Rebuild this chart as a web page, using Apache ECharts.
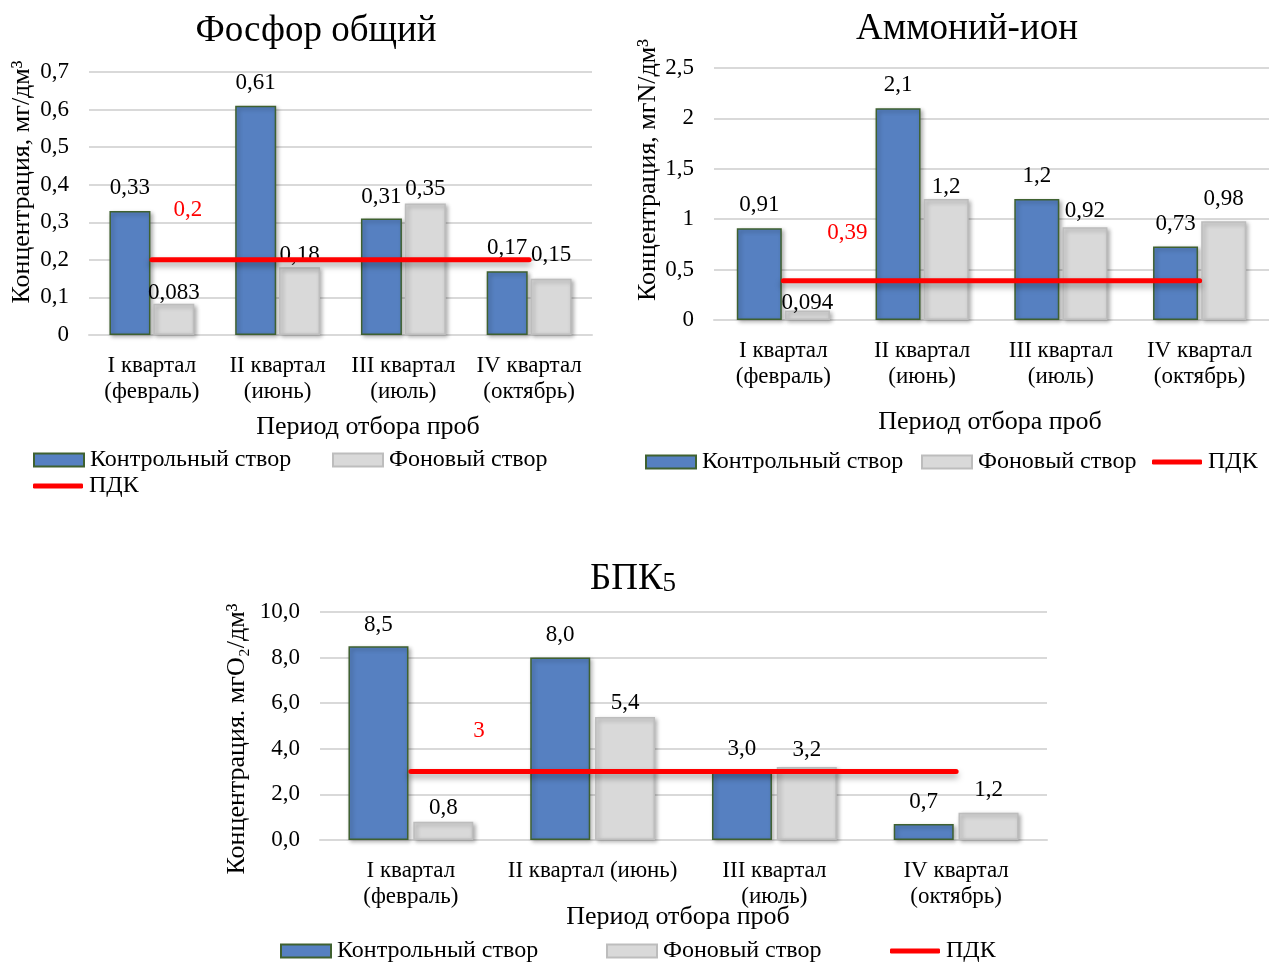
<!DOCTYPE html>
<html><head><meta charset="utf-8">
<script src="https://cdn.jsdelivr.net/npm/echarts@6/dist/echarts.min.js"></script>
<style>html,body{margin:0;padding:0;background:#fff}#c{width:1269px;height:964px}</style>
</head><body><div id="c"></div>
<script>
// ---------- DATA ----------
const categories1 = ['I квартал\n(февраль)', 'II квартал\n(июнь)', 'III квартал\n(июль)', 'IV квартал\n(октябрь)'];
const categories2 = ['I квартал\n(февраль)', 'II квартал\n(июнь)', 'III квартал\n(июль)', 'IV квартал\n(октябрь)'];
const categories3 = ['I квартал\n(февраль)', 'II квартал (июнь)', 'III квартал\n(июль)', 'IV квартал\n(октябрь)'];

const control1 = [0.33, 0.61, 0.31, 0.17];
const background1 = [0.083, 0.18, 0.35, 0.15];
const pdk1 = [0.2, 0.2, 0.2, 0.2];

const control2 = [0.91, 2.1, 1.2, 0.73];
const background2 = [0.094, 1.2, 0.92, 0.98];
const pdk2 = [0.39, 0.39, 0.39, 0.39];

const control3 = [8.5, 8.0, 3.0, 0.7];
const background3 = [0.8, 5.4, 3.2, 1.2];
const pdk3 = [3, 3, 3, 3];

const yAxis1 = {min: 0, max: 0.7, interval: 0.1};
const yAxis2 = {min: 0, max: 2.5, interval: 0.5};
const yAxis3 = {min: 0, max: 10, interval: 2};

const names = ['Контрольный створ', 'Фоновый створ', 'ПДК'];

// ---------- STYLE ----------
const FONT = '"Liberation Serif", "Times New Roman", serif';
const BLUE = '#5680C1', BLUE_BORDER = '#3F6130';
const GRAY = '#D9D9D9', GRAY_BORDER = '#BDBDBD';
const RED = '#FF0000';
const FS = 23;

// label distances (styling only)
const dist = {
  c1: [12, 11, 10, 12], b1: [-1, 1, 3, 12],
  c2: [12, 12, 12, 11], b2: [-4, 1, 5, 11],
  c3: [10, 11, 11, 11], b3: [2, 2, 6, 11]
};
const pdkOffset = [[36, -33], [64, -31], [68, -24]];

const fmt1 = v => String(+(+v).toFixed(3)).replace('.', ',');
const fmt3 = v => (+v).toFixed(1).replace('.', ',');

const cfgs = [
  {cats: categories1, c: control1, b: background1, p: pdk1, y: yAxis1, fmt: fmt1,
   grid: {left: 89, top: 72, width: 503, height: 263}, bw: 41, gap: '7%', dc: dist.c1, db: dist.b1},
  {cats: categories2, c: control2, b: background2, p: pdk2, y: yAxis2, fmt: fmt1,
   grid: {left: 714, top: 68, width: 557, height: 252}, bw: 45, gap: '7%', dc: dist.c2, db: dist.b2},
  {cats: categories3, c: control3, b: background3, p: pdk3, y: yAxis3, fmt: fmt3,
   grid: {left: 320, top: 612, width: 727, height: 228}, bw: 60, gap: '8%', dc: dist.c3, db: dist.b3}
];

const grid = [], xAxis = [], yAxis = [], series = [];
const shadow = {shadowColor: 'rgba(0,0,0,0.3)', shadowBlur: 4, shadowOffsetX: 2, shadowOffsetY: 2};
cfgs.forEach((g, i) => {
  grid.push(Object.assign({containLabel: false}, g.grid));
  xAxis.push({
    type: 'category', gridIndex: i, data: g.cats,
    axisTick: {show: false},
    axisLine: {lineStyle: {color: '#D9D9D9', width: 2}},
    axisLabel: {interval: 0, margin: 18, fontFamily: FONT, fontSize: FS, lineHeight: 26, color: '#000'}
  });
  yAxis.push({
    type: 'value', gridIndex: i, min: g.y.min, max: g.y.max, interval: g.y.interval,
    axisLine: {show: false}, axisTick: {show: false},
    splitLine: {lineStyle: {color: '#D9D9D9', width: 2}},
    axisLabel: {margin: 20, fontFamily: FONT, fontSize: FS, color: '#000',
      formatter: v => (i === 2 ? fmt3(v) : String(+v.toFixed(2)).replace('.', ','))}
  });
  const labelBase = {show: true, position: 'top', fontFamily: FONT, fontSize: FS, color: '#000',
    formatter: p => g.fmt(p.value)};
  series.push({
    name: names[0], type: 'bar', xAxisIndex: i, yAxisIndex: i, barWidth: g.bw, barGap: g.gap,
    itemStyle: Object.assign({color: BLUE, borderColor: BLUE_BORDER, borderWidth: 1.5}, shadow),
    label: labelBase,
    data: g.c.map((v, k) => ({value: v, label: {distance: g.dc[k]}}))
  });
  series.push({
    name: names[1], type: 'bar', xAxisIndex: i, yAxisIndex: i, barWidth: g.bw, barGap: g.gap,
    itemStyle: Object.assign({color: GRAY, borderColor: GRAY_BORDER, borderWidth: 1.5}, shadow),
    label: labelBase,
    data: g.b.map((v, k) => ({value: v, label: {distance: g.db[k]}}))
  });
  series.push({
    name: names[2], type: 'line', xAxisIndex: i, yAxisIndex: i, z: 3,
    symbol: 'circle', symbolSize: 1, showSymbol: true,
    lineStyle: {color: RED, width: 5, cap: 'round',
      shadowColor: 'rgba(0,0,0,0.35)', shadowBlur: 6, shadowOffsetY: 4},
    itemStyle: {color: RED},
    label: {show: true, position: 'top', offset: pdkOffset[i], fontFamily: FONT, fontSize: FS, color: RED,
      formatter: p => p.dataIndex === 0 ? fmt1(p.value) : ''},
    data: g.p
  });
});

function leg(name, left, cy, isLine) {
  const l = {data: [{name: name, icon: 'rect'}], left: left, top: cy - 12, padding: 0, itemWidth: 50, itemHeight: isLine ? 5 : 13, itemGap: 0,
    textStyle: {fontFamily: FONT, fontSize: 24, color: '#000', padding: [0, 0, 0, 1]},
    selectedMode: false};
  if (isLine) l.data = [{name: name, icon: 'roundRect', itemStyle: {color: RED}}];
  return l;
}
const legend = [
  leg(names[0], 33, 460), leg(names[1], 332, 460), leg(names[2], 33, 486, true),
  leg(names[0], 645, 462), leg(names[1], 921, 462), leg(names[2], 1152, 462, true),
  leg(names[0], 280, 951), leg(names[1], 606, 951), leg(names[2], 890, 951, true)
];

function txt(text, x, y, size, rot, rich) {
  const el = {type: 'text', x: x, y: y, rotation: rot || 0, silent: true,
    style: {text: text, fontFamily: FONT, fontSize: size, fill: '#000', align: 'center', verticalAlign: 'middle'}};
  if (rich) el.style.rich = rich;
  return el;
}
const graphic = [
  txt('Фосфор общий', 316, 31, 37),
  txt('Аммоний-ион', 967, 29, 37),
  txt('{a|БПК}{b|5}', 633, 579, 37, 0, {a: {fontFamily: FONT, fontSize: 37, fill: '#000'}, b: {fontFamily: FONT, fontSize: 27, fill: '#000', verticalAlign: 'bottom', padding: [8, 0, 0, 0]}}),
  txt('Концентрация, мг/дм³', 22, 182, 26, Math.PI / 2),
  txt('Концентрация, мгN/дм³', 648, 170, 26, Math.PI / 2),
  txt('Концентрация. мгО₂/дм³', 237, 739, 26, Math.PI / 2),
  txt('Период отбора проб', 368, 427, 26),
  txt('Период отбора проб', 990, 422, 26),
  txt('Период отбора проб', 678, 917, 26)
];

const chart = echarts.init(document.getElementById('c'), null, {renderer: 'canvas'});
chart.setOption({
  animation: false,
  backgroundColor: '#fff',
  grid, xAxis, yAxis, series, legend, graphic
});
</script></body></html>
